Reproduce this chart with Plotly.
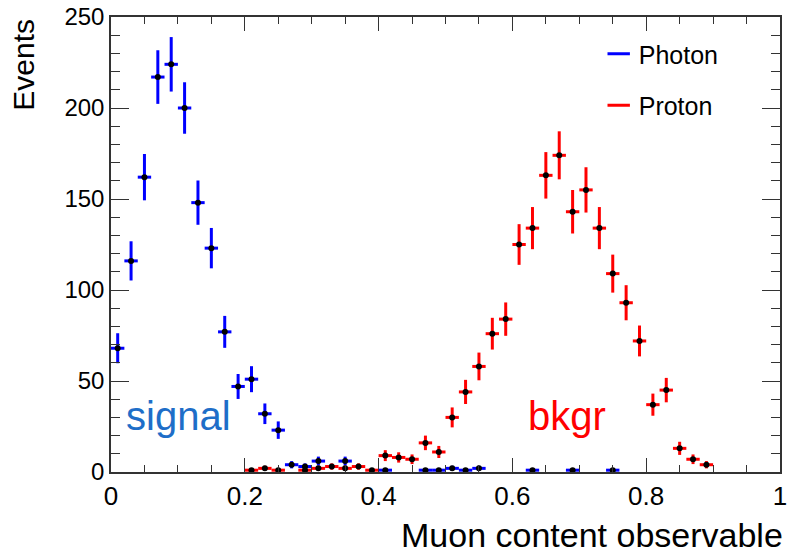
import numpy as np
import plotly.graph_objects as go

# Histogram binning: 50 bins of width 0.02 on [0, 1]
X_MIN = 0.0
BIN_WIDTH = 0.02

photon_counts = [
    68, 116, 162, 217, 224, 200, 148, 123, 77, 47,
    51, 32, 23, 4, 3, 6, 0, 6, 0, 0,
    1, 0, 0, 1, 1, 2, 1, 2, 0, 0,
    0, 1, 0, 0, 1, 0, 0, 1, 0, 0,
    0, 0, 0, 0, 0, 0, 0, 0, 0, 0,
]
proton_counts = [
    0, 0, 0, 0, 0, 0, 0, 0, 0, 0,
    1, 2, 1, 0, 1, 2, 3, 2, 3, 1,
    9, 8, 7, 16, 11, 30, 44, 58, 76, 84,
    125, 134, 163, 174, 143, 155, 134, 109, 93, 72,
    37, 45, 13, 7, 4, 0, 0, 0, 0, 0,
]

series_names = ["Photon", "Proton"]
series_colors = ["#0000ff", "#ff0000"]
x_tick_vals = [0, 0.2, 0.4, 0.6, 0.8, 1.0]
x_tick_text = ["0", "0.2", "0.4", "0.6", "0.8", "1"]
y_tick_vals = [0, 50, 100, 150, 200, 250]
FONT = "Liberation Sans, Arial, Helvetica, sans-serif"

fig = go.Figure()

for name, counts, color in zip(series_names, [photon_counts, proton_counts], series_colors):
    counts = np.asarray(counts, dtype=float)
    centers = X_MIN + BIN_WIDTH * (np.arange(len(counts)) + 0.5)
    keep = counts > 0
    fig.add_trace(go.Scatter(
        x=centers[keep], y=counts[keep],
        mode="markers",
        marker=dict(color="black", size=6, symbol="circle"),
        error_x=dict(type="constant", value=BIN_WIDTH / 2, color=color, thickness=3, width=0),
        error_y=dict(type="data", array=np.sqrt(counts[keep]), color=color, thickness=3, width=0),
        showlegend=False, hoverinfo="x+y",
    ))

# legend entries drawn as short coloured lines
for name, color in zip(series_names, series_colors):
    fig.add_trace(go.Scatter(
        x=[None], y=[None], mode="markers", name=name, legendgroup=name,
        marker=dict(symbol="line-ew", size=20, color=color, line=dict(color=color, width=3)),
    ))

fig.add_annotation(x=0.02, y=31, xref="x", yref="y", text="signal", showarrow=False,
                   xanchor="left", yanchor="middle",
                   font=dict(family=FONT, size=40, color="#1e6ec8"))
fig.add_annotation(x=0.620, y=31, xref="x", yref="y", text="bkgr", showarrow=False,
                   xanchor="left", yanchor="middle",
                   font=dict(family=FONT, size=40, color="#ff0000"))

fig.add_annotation(x=-0.132, y=1.0, xref="paper", yref="paper", text="Events", showarrow=False,
                   textangle=-90, xanchor="center", yanchor="top",
                   font=dict(family=FONT, size=30, color="black"))
fig.add_annotation(x=0.430, y=-0.139, xref="paper", yref="paper", text="Muon content observable",
                   showarrow=False, xanchor="left", yanchor="middle",
                   font=dict(family=FONT, size=34, color="black"))

fig.update_layout(
    width=790, height=553,
    margin=dict(l=111, r=3, t=16, b=81),
    paper_bgcolor="white", plot_bgcolor="white",
    font=dict(family=FONT, size=24, color="black"),
    legend=dict(x=0.729, y=0.969, xanchor="left", yanchor="top",
                bgcolor="rgba(0,0,0,0)", tracegroupgap=16,
                font=dict(family=FONT, size=25)),
    xaxis=dict(range=[0, 1], tickvals=x_tick_vals, ticktext=x_tick_text,
               ticks="inside", ticklen=14, tickwidth=1, tickcolor="#333",
               minor=dict(dtick=0.05, ticks="inside", ticklen=7, tickcolor="#333", showgrid=False),
               showline=True, linecolor="#333", linewidth=1.5, mirror="allticks",
               showgrid=False, zeroline=False, ticklabeloverflow="allow",
               tickfont=dict(family=FONT, size=26)),
    yaxis=dict(range=[0, 250], tickvals=y_tick_vals,
               ticks="inside", ticklen=18, tickwidth=1, tickcolor="#333",
               minor=dict(dtick=10, ticks="inside", ticklen=9, tickcolor="#333", showgrid=False),
               showline=True, linecolor="#333", linewidth=1.5, mirror="allticks",
               showgrid=False, zeroline=False, ticklabeloverflow="allow",
               tickfont=dict(family=FONT, size=24)),
)

fig.write_html("out.html")
